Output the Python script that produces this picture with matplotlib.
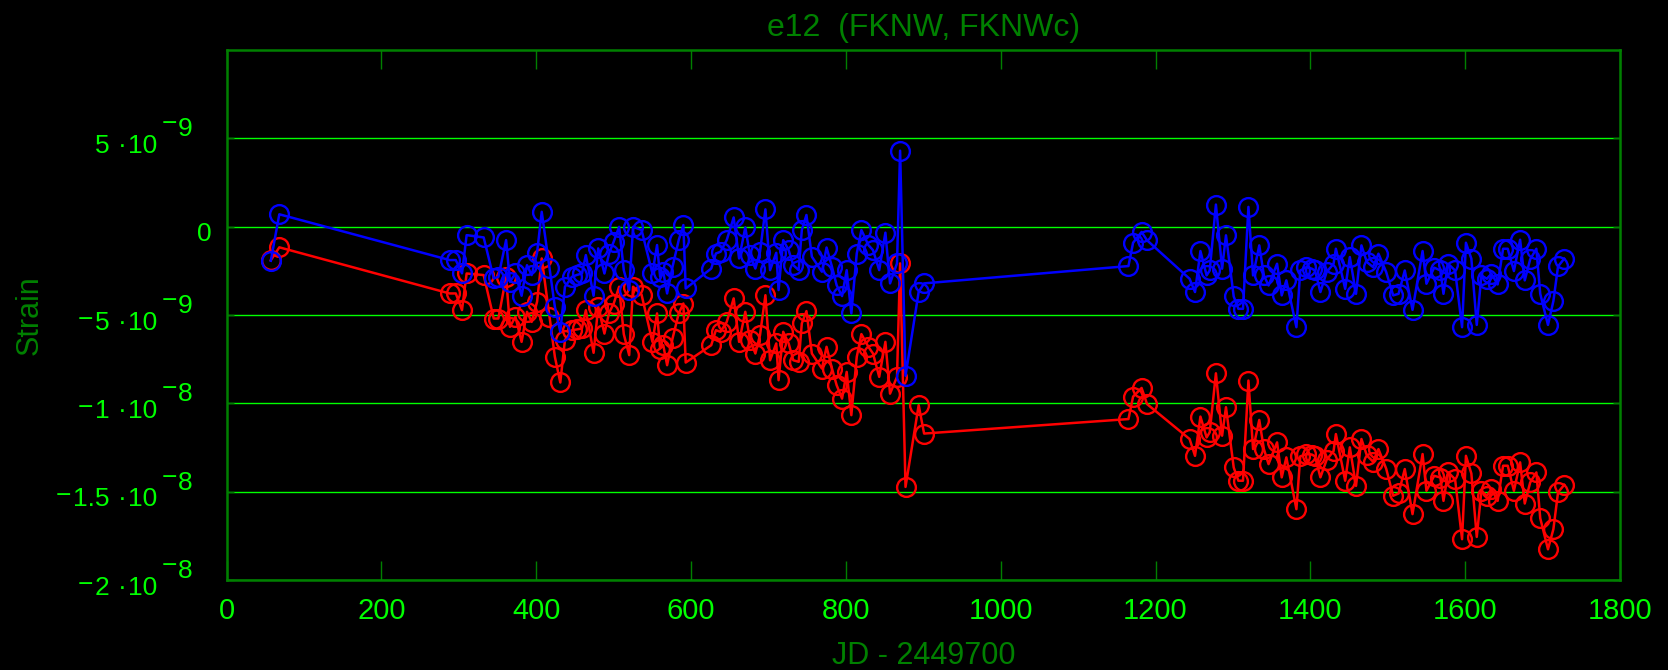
import numpy as np
import matplotlib
matplotlib.use("Agg")
import matplotlib.pyplot as plt
import matplotlib.transforms as mtransforms

plt.rcParams['font.family'] = ['Liberation Sans', 'DejaVu Sans']

# observation epochs, JD - 2449700
days = [
    57, 68, 288, 296, 304, 310, 332, 345, 351, 361,
    366, 373, 381, 388, 394, 401, 407, 417, 424, 431,
    437, 446, 452, 459, 464, 474, 480, 488, 494, 500,
    507, 513, 520, 525, 536, 550, 556, 560, 564, 569,
    576, 584, 590, 593, 626, 632, 638, 646, 655, 662,
    670, 676, 683, 689, 696, 702, 710, 713, 719, 726,
    732, 739, 743, 749, 756, 769, 775, 782, 788, 795,
    801, 807, 814, 820, 829, 835, 843, 851, 857, 866,
    870, 877, 894, 901, 1165, 1171, 1182, 1189, 1244, 1251,
    1258, 1266, 1270, 1278, 1286, 1291, 1301, 1307, 1313, 1320,
    1326, 1334, 1340, 1346, 1357, 1363, 1369, 1382, 1387, 1395,
    1402, 1406, 1413, 1421, 1430, 1433, 1445, 1451, 1459, 1466,
    1473, 1481, 1488, 1498, 1507, 1514, 1522, 1532, 1545, 1550,
    1560, 1568, 1572, 1578, 1587, 1596, 1601, 1608, 1615, 1621,
    1628, 1634, 1642, 1649, 1655, 1663, 1671, 1677, 1684, 1692,
    1697, 1707, 1714, 1720, 1728,
]

# e12 strain component, in units of 1e-9
fknw = [
    -1.93, 0.70, -1.89, -1.89, -2.64, -0.48, -0.61, -2.93, -2.84, -0.76,
    -3.12, -2.65, -3.91, -2.18, -2.74, -1.48, 0.84, -2.33, -4.54, -5.95,
    -3.40, -2.84, -2.74, -2.65, -1.61, -3.91, -1.23, -2.65, -1.52, -0.85,
    -0.01, -2.46, -3.59, -0.01, -0.19, -2.65, -1.04, -2.84, -2.55, -3.78,
    -2.27, -0.76, 0.09, -3.50, -2.37, -1.52, -1.42, -0.76, 0.52, -1.80,
    -0.04, -1.61, -2.37, -1.42, 0.98, -2.46, -1.48, -3.59, -0.76, -1.33,
    -2.18, -2.46, -0.19, 0.66, -1.70, -2.55, -1.18, -2.27, -3.31, -3.93,
    -2.46, -4.91, -1.52, -0.19, -1.04, -1.33, -2.46, -0.34, -3.21, -2.08,
    4.30, -8.44, -3.69, -3.21, -2.23, -0.91, -0.30, -0.77, -2.95, -3.70,
    -1.38, -2.76, -2.48, 1.25, -2.38, -0.49, -3.95, -4.65, -4.65, 1.12,
    -2.76, -1.06, -2.76, -3.33, -2.10, -3.89, -3.04, -5.69, -2.48, -2.29,
    -2.38, -2.48, -3.70, -2.57, -2.10, -1.25, -3.52, -1.72, -3.80, -1.06,
    -2.00, -2.29, -1.53, -2.57, -3.89, -3.80, -2.48, -4.71, -1.38, -3.23,
    -2.32, -2.48, -3.80, -2.10, -2.48, -5.69, -0.91, -1.81, -5.56, -2.76,
    -2.95, -2.66, -3.27, -1.25, -1.25, -2.51, -0.74, -3.04, -1.85, -1.25,
    -3.80, -5.56, -4.21, -2.25, -1.81,
]

fknwc = [
    -1.90, -1.17, -3.78, -3.78, -4.72, -2.65, -2.74, -5.20, -5.20, -2.84,
    -5.67, -5.10, -6.52, -4.82, -5.39, -4.25, -1.80, -5.10, -7.37, -8.82,
    -6.42, -5.86, -5.82, -5.76, -4.73, -7.14, -4.54, -6.05, -4.88, -4.35,
    -3.40, -6.08, -7.27, -3.40, -3.85, -6.52, -4.91, -6.90, -6.71, -7.84,
    -6.33, -4.91, -4.35, -7.69, -6.71, -5.86, -5.95, -5.39, -4.06, -6.52,
    -4.82, -6.39, -7.18, -6.14, -3.88, -7.56, -6.61, -8.69, -5.95, -6.61,
    -7.56, -7.65, -5.48, -4.78, -7.18, -8.03, -6.80, -8.03, -8.97, -9.73,
    -8.22, -10.67, -7.37, -6.08, -6.80, -7.18, -8.50, -6.52, -9.45, -8.50,
    -2.08, -14.73, -10.10, -11.71, -10.89, -9.62, -9.13, -10.04, -12.02, -12.97,
    -10.75, -11.93, -11.64, -8.30, -11.83, -10.22, -13.63, -14.38, -14.38, -8.71,
    -12.59, -10.94, -12.59, -13.44, -12.21, -14.19, -13.06, -15.99, -13.00, -12.87,
    -12.90, -13.00, -14.19, -13.20, -12.70, -11.74, -14.38, -12.49, -14.67, -12.02,
    -12.95, -13.30, -12.59, -13.70, -15.23, -15.10, -13.72, -16.27, -12.87, -14.95,
    -14.10, -14.20, -15.52, -13.90, -14.30, -17.69, -12.97, -13.97, -17.56, -14.95,
    -15.23, -14.86, -15.52, -13.53, -13.53, -14.95, -13.34, -15.67, -14.48, -13.91,
    -16.50, -18.26, -17.12, -15.04, -14.61,
]

xticks = [0, 200, 400, 600, 800, 1000, 1200, 1400, 1600, 1800]
yticks = [5e-9, 0.0, -5e-9, -1e-8, -1.5e-8, -2e-8]

dark_green = '#008000'
bright_green = '#00ff00'

fig = plt.figure(figsize=(16.68, 6.70), dpi=100, facecolor='black')
ax = fig.add_axes([0.1359, 0.1343, 0.8353, 0.7911], facecolor='black')

t = np.array(days)
ax.plot(t, np.array(fknwc) * 1e-9, color='red', lw=1.8, marker='o', ms=13.5,
        mfc='none', mec='red', mew=1.7, zorder=3)
ax.plot(t, np.array(fknw) * 1e-9, color='blue', lw=1.8, marker='o', ms=13.5,
        mfc='none', mec='blue', mew=1.7, zorder=4)

ax.set_xlim(0, 1800)
ax.set_ylim(-2e-8, 1e-8)
ax.set_xticks(xticks)
ax.set_yticks(yticks)
ax.set_axisbelow(True)
ax.yaxis.grid(True, color=bright_green, lw=1.0)

for sp in ax.spines.values():
    sp.set_color(dark_green)
    sp.set_linewidth(1.8)

ax.tick_params(axis='x', direction='in', length=14, width=1.0, color=dark_green,
               labelcolor=bright_green, labelsize=21, pad=12.3, top=True)
ax.tick_params(axis='y', direction='in', length=5, width=1.0, color=dark_green,
               labelleft=False, right=True)

# y tick labels written as  m·10^e  with a raised minus sign
FS = 19
digit_w = FS / 72 * 100 * 0.556
dot_w = FS / 72 * 100 * 0.278


def at(dx, dy):
    return ax.get_yaxis_transform() + mtransforms.ScaledTranslation(
        dx / 100, dy / 100, fig.dpi_scale_trans)


def sci_parts(v):
    m, e = f"{abs(v):e}".split("e")
    m = m.rstrip("0").rstrip(".")
    return v < 0, m, int(e)


kw = dict(fontsize=FS, color=bright_green, va='baseline')
for v in yticks:
    if v == 0:
        ax.text(0, v, "0", ha='right', transform=at(-15, -14.5), **kw)
        continue
    neg, mant, ex = sci_parts(v)
    ax.text(0, v, "10", ha='right', transform=at(-69, -14.5), **kw)
    ax.text(0, v, "\u00b7", ha='center', transform=at(-104, -14.5), **kw)
    ax.text(0, v, mant, ha='right', transform=at(-117, -14.5), **kw)
    if ex < 0:
        ax.text(0, v, "\u2212", ha='left', transform=at(-65, 6.9), **kw)
    ax.text(0, v, str(abs(ex)), ha='left', transform=at(-49, 2), **kw)
    if neg:
        w = sum(dot_w if c == '.' else digit_w for c in mant)
        ax.text(0, v, "\u2212", ha='right', transform=at(-117 - w - 2, -11.7), **kw)

ax.set_xlabel("JD - 2449700", fontsize=22, color=dark_green)
ax.xaxis.set_label_coords(0.5, -0.1437)
ax.xaxis.label.set_va('center')
ax.set_ylabel("Strain", fontsize=22, color=dark_green)
ax.yaxis.set_label_coords(-0.1412, 0.5)
ax.yaxis.label.set_va('center')

fig.text(0.5534, 0.958, "e12  (FKNW, FKNWc)", fontsize=23, color=dark_green,
         ha='center', va='center')

fig.savefig("out.png", dpi=100, facecolor='black')
